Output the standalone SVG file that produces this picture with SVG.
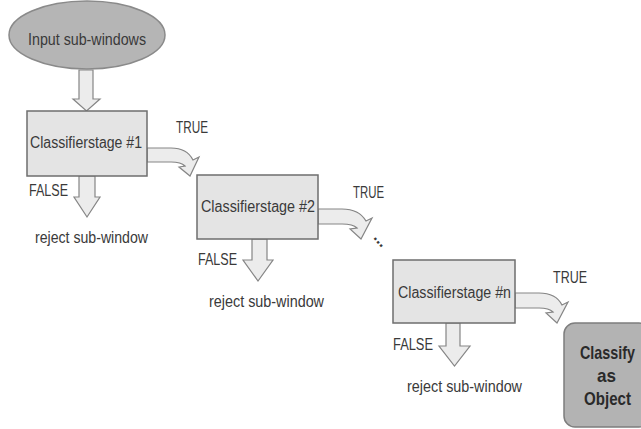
<svg xmlns="http://www.w3.org/2000/svg" width="641" height="429" viewBox="0 0 641 429">
<style>
.bg{fill:#ffffff}
.box{fill:#e4e4e4;stroke:#6e6e6e;stroke-width:1.5}
.ell{fill:#b5b5b5;stroke:#8a8a8a;stroke-width:1.5}
.fin{fill:#b3b3b3;stroke:#7e7e7e;stroke-width:1.5}
.arr{fill:#ececec;stroke:#858585;stroke-width:1.2;stroke-linejoin:miter}
.t{font-family:"Liberation Sans Narrow","Liberation Sans",Arial,sans-serif;font-size:16px;fill:#3a3a3a}
.b{font-family:"Liberation Sans Narrow","Liberation Sans",Arial,sans-serif;font-size:19px;font-weight:bold;fill:#2a2a2a}
</style>
<rect class="bg" x="0" y="0" width="641" height="429"/>
<g id="connectors">
  <path class="arr" d="M79,70 L93,70 L93,99 L100,99 L86.5,111 L73,99 L79,99 Z"/>
  <path class="arr" d="M147,148 L171,148 Q187,148 193,160 L199,157 L190,176 L179,167 L185,166 Q181,162 171,162 L147,162 Z"/>
  <path class="arr" d="M318,209 L342,209 Q359,209 366,221 L372,218 L361,239 L350,229 L357,228 Q353,224 342,224 L318,224 Z"/>
  <path class="arr" d="M515,293 L539,293 Q556,293 562,305 L568,302 L557,323 L546,313 L553,312 Q549,308 539,308 L515,308 Z"/>
  <path class="arr" d="M79,176 L95,176 L95,197 L100,197 L87,217 L74,197 L79,197 Z"/>
  <path class="arr" d="M252,239 L267,239 L267,260 L273,260 L258,281 L243,260 L252,260 Z"/>
  <path class="arr" d="M446,323 L460,323 L460,346 L470,346 L454.5,366 L439,346 L446,346 Z"/>
</g>
<g id="input">
  <ellipse class="ell" cx="87" cy="35" rx="78" ry="34"/>
  <text class="t" x="28" y="45" textLength="118" lengthAdjust="spacingAndGlyphs">Input sub-windows</text>
</g>
<g id="stage1">
  <rect class="box" x="27" y="111" width="120" height="65"/>
  <text class="t" x="30" y="148" textLength="112" lengthAdjust="spacingAndGlyphs">Classifierstage #1</text>
  <text class="t" x="176" y="133" textLength="32" lengthAdjust="spacingAndGlyphs">TRUE</text>
  <text class="t" x="29" y="196" textLength="39" lengthAdjust="spacingAndGlyphs">FALSE</text>
  <text class="t" x="35" y="243" textLength="113" lengthAdjust="spacingAndGlyphs">reject sub-window</text>
</g>
<g id="stage2">
  <rect class="box" x="197" y="175" width="121" height="64"/>
  <text class="t" x="201" y="212" textLength="114" lengthAdjust="spacingAndGlyphs">Classifierstage #2</text>
  <text class="t" x="353" y="198" textLength="31" lengthAdjust="spacingAndGlyphs">TRUE</text>
  <text class="t" x="198" y="265" textLength="39" lengthAdjust="spacingAndGlyphs">FALSE</text>
  <text class="t" x="209" y="307" textLength="115" lengthAdjust="spacingAndGlyphs">reject sub-window</text>
  <text class="t" x="373" y="238" font-weight="bold" transform="rotate(50 373 238)">...</text>
</g>
<g id="stagen">
  <rect class="box" x="393" y="260" width="122" height="63"/>
  <text class="t" x="398" y="298" textLength="113" lengthAdjust="spacingAndGlyphs">Classifierstage #n</text>
  <text class="t" x="553" y="283" textLength="34" lengthAdjust="spacingAndGlyphs">TRUE</text>
  <text class="t" x="393" y="350" textLength="40" lengthAdjust="spacingAndGlyphs">FALSE</text>
  <text class="t" x="407" y="392" textLength="115" lengthAdjust="spacingAndGlyphs">reject sub-window</text>
</g>
<g id="classify">
  <rect class="fin" x="564" y="323" width="86" height="104" rx="11"/>
  <text class="b" x="580" y="359" textLength="55" lengthAdjust="spacingAndGlyphs">Classify</text>
  <text class="b" x="597" y="382" textLength="19" lengthAdjust="spacingAndGlyphs">as</text>
  <text class="b" x="584" y="405" textLength="47" lengthAdjust="spacingAndGlyphs">Object</text>
</g>
</svg>
